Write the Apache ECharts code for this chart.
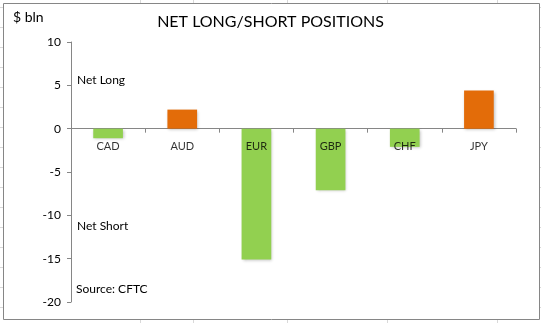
<!DOCTYPE html>
<html>
<head>
<meta charset="utf-8">
<script src="https://cdn.jsdelivr.net/npm/echarts@6/dist/echarts.min.js"></script>
<style>
  html, body { margin: 0; padding: 0; background: #fff; }
  #chart { width: 541px; height: 323px; }
</style>
</head>
<body>
<div id="chart"></div>
<script>
// Net positioning by currency, $ bln
const currencies = ['CAD', 'AUD', 'EUR', 'GBP', 'CHF', 'JPY'];
const netPositions = [-1.1, 2.2, -15.1, -7.1, -2.1, 4.4];
const yTicks = [10, 5, 0, -5, -10, -15, -20];

const GREEN = '#92D050';
const ORANGE = '#E36C09';
const FONT = 'Lato, "Open Sans", sans-serif';

const chart = echarts.init(document.getElementById('chart'));

// Spreadsheet cell lines showing around the chart frame
const cellLines = [];
[140, 193, 287, 387, 497].forEach(x => {
  cellLines.push({ type: 'line', shape: { x1: x + 0.5, y1: 0, x2: x + 0.5, y2: 323 }, style: { stroke: '#D9D9D9', lineWidth: 1 }, z: -10 });
});
for (let y = 7; y < 323; y += 20) {
  cellLines.push({ type: 'line', shape: { x1: 0, y1: y + 0.5, x2: 541, y2: y + 0.5 }, style: { stroke: '#D9D9D9', lineWidth: 1 }, z: -10 });
}

chart.setOption({
  animation: false,
  backgroundColor: '#fff',
  title: {
    text: 'NET LONG/SHORT POSITIONS',
    left: 'center',
    top: 9,
    textStyle: { fontFamily: FONT, fontSize: 16, fontWeight: 'normal', color: '#000' }
  },
  grid: { left: 71, right: 25, top: 42, bottom: 21, containLabel: false },
  xAxis: {
    type: 'category',
    data: currencies,
    axisLine: { onZero: true, lineStyle: { color: '#868686', width: 1 } },
    axisTick: { show: true, alignWithLabel: false, length: 4, lineStyle: { color: '#868686' } },
    axisLabel: { show: false },
    splitLine: { show: false }
  },
  yAxis: {
    type: 'value',
    min: -20,
    max: 10,
    interval: 5,
    axisLine: { show: true, lineStyle: { color: '#868686', width: 1 } },
    axisTick: { show: true, length: 4, lineStyle: { color: '#868686' } },
    axisLabel: {
      color: '#000', fontFamily: FONT, fontSize: 12, margin: 10,
      formatter: v => (yTicks.includes(v) ? String(v) : '')
    },
    splitLine: { show: false }
  },
  series: [{
    type: 'bar',
    data: netPositions.map(v => ({
      value: v,
      itemStyle: { color: v >= 0 ? ORANGE : GREEN }
    })),
    barWidth: '40%',
    itemStyle: {
      shadowColor: 'rgba(0,0,0,0.25)',
      shadowBlur: 3,
      shadowOffsetX: 1,
      shadowOffsetY: 1
    }
  }, {
    // Category names sit just below the zero line
    type: 'scatter',
    data: currencies.map(() => 0),
    symbolSize: 0,
    silent: true,
    z: 10,
    label: {
      show: true,
      position: 'bottom',
      distance: 12,
      formatter: p => p.name,
      color: '#000',
      fontFamily: FONT,
      fontSize: 11
    }
  }],
  graphic: [
    ...cellLines,
    {
      type: 'rect', z: -5,
      shape: { x: 3.5, y: 3.5, width: 536, height: 316 },
      style: { fill: '#fff', stroke: '#868686', lineWidth: 1 }
    },
    { type: 'text', left: 13, top: 10, style: { text: '$ bln', font: '14px ' + FONT, fill: '#000' } },
    { type: 'text', left: 77, top: 74, style: { text: 'Net Long', font: '12px ' + FONT, fill: '#000' } },
    { type: 'text', left: 77, top: 220, style: { text: 'Net Short', font: '12px ' + FONT, fill: '#000' } },
    { type: 'text', left: 76, top: 283, style: { text: 'Source: CFTC', font: '12px ' + FONT, fill: '#000' } }
  ]
});
</script>
</body>
</html>
